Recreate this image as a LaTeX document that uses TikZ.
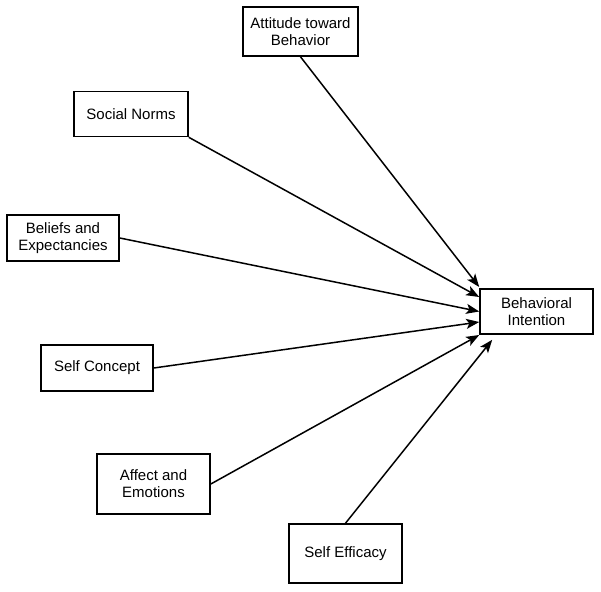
\documentclass[tikz,border=0pt]{standalone}
\usepackage{fontspec}
\setmainfont{Liberation Sans}
\usetikzlibrary{arrows.meta}
\begin{document}
\begin{tikzpicture}[x=1pt,y=-1pt,
  box/.style={draw, line width=1.6pt, inner sep=0pt, align=center,
    font=\fontsize{15}{17}\selectfont},
  conn/.style={line width=1.5pt, -{Stealth[length=13pt,width=10pt,inset=3pt]}}]
\useasboundingbox (0,0) rectangle (601,591);
\node[box, minimum width=115pt, minimum height=49pt] (att) at (300.5,31.5) {Attitude toward\\Behavior};
\node[box, minimum width=114pt, minimum height=45pt] (sn) at (131,114) {Social Norms};
\node[box, minimum width=112pt, minimum height=46pt] (be) at (63,238) {Beliefs and\\Expectancies};
\node[box, minimum width=112pt, minimum height=46pt] (sc) at (97,368) {Self Concept};
\node[box, minimum width=113pt, minimum height=60pt] (af) at (153.5,484) {Affect and\\Emotions};
\node[box, minimum width=113pt, minimum height=59pt] (se) at (345.5,553.5) {Self Efficacy};
\node[box, minimum width=113pt, minimum height=45pt] (bi) at (536.5,311.5) {Behavioral\\Intention};
\draw[conn] (att.south) -- ([yshift=24.5pt]bi.west);
\draw[conn] (sn.south east) -- ([yshift=14.5pt]bi.west);
\draw[conn] (be.east) -- (bi.west);
\draw[conn] (sc.east) -- ([yshift=-10.5pt]bi.west);
\draw[conn] (af.east) -- ([yshift=-23.5pt]bi.west);
\draw[conn] (se.north) -- ([xshift=13pt,yshift=-5pt]bi.south west);
\end{tikzpicture}
\end{document}
